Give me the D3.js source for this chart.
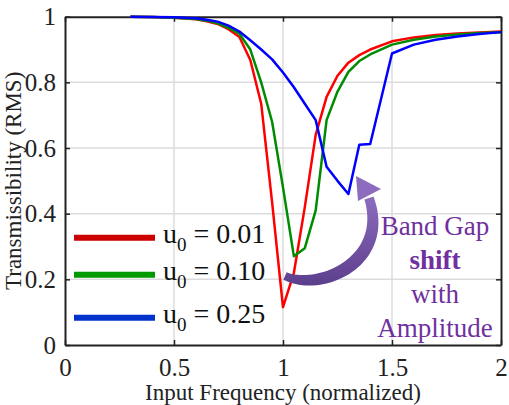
<!DOCTYPE html>
<html><head><meta charset="utf-8">
<script src="https://cdn.jsdelivr.net/npm/d3@7"></script>
<style>body{margin:0;background:#fff}</style></head>
<body><svg id="c" width="509" height="405"></svg>
<script>
const freq  = [0.3,0.4,0.5,0.6,0.65,0.7,0.75,0.8,0.85,0.9,0.95,1.0,1.05,1.1,1.15,1.2,1.25,1.3,1.35,1.4,1.5,1.6,1.7,1.8,1.9,2.0];
const red   = [1.0,0.999,0.997,0.992,0.986,0.978,0.962,0.938,0.868,0.735,0.435,0.115,0.22,0.42,0.64,0.756,0.82,0.86,0.883,0.9,0.925,0.937,0.944,0.949,0.952,0.955];
const green = [1.0,0.999,0.997,0.993,0.988,0.98,0.966,0.948,0.9,0.8,0.68,0.48,0.27,0.295,0.41,0.685,0.772,0.832,0.865,0.885,0.915,0.93,0.94,0.946,0.95,0.953];
const blue  = [1.0,0.999,0.998,0.995,0.991,0.985,0.973,0.955,0.928,0.9,0.87,0.83,0.785,0.735,0.685,0.543,0.5,0.46,0.61,0.612,0.888,0.915,0.93,0.94,0.947,0.953];
const seriesNames = ["u0 = 0.01","u0 = 0.10","u0 = 0.25"];
const xTicks = [0,0.5,1,1.5,2];
const yTicks = [0,0.2,0.4,0.6,0.8,1];
const annot = ["Band Gap","shift","with","Amplitude"];

const svg = d3.select("#c");
const L=65, R=501, T=16.7, B=345;
const x = d3.scaleLinear().domain([0,2]).range([L,R]);
const y = d3.scaleLinear().domain([0,1]).range([B,T]);
const font = "'Liberation Serif','Times New Roman',serif";

// grid
svg.append("g").selectAll("line").data(xTicks.slice(1,-1)).join("line")
  .attr("x1",d=>x(d)).attr("x2",d=>x(d)).attr("y1",T).attr("y2",B)
  .attr("stroke","#dcdcdc").attr("stroke-width",1.5);
svg.append("g").selectAll("line").data(yTicks.slice(1,-1)).join("line")
  .attr("y1",d=>y(d)).attr("y2",d=>y(d)).attr("x1",L).attr("x2",R)
  .attr("stroke","#dcdcdc").attr("stroke-width",1.5);

// axes
const axB = svg.append("g").attr("transform",`translate(0,${B})`)
  .call(d3.axisBottom(x).tickValues(xTicks).tickSizeInner(-5).tickSizeOuter(0).tickPadding(13).tickFormat(d3.format("")));
const axL = svg.append("g").attr("transform",`translate(${L},0)`)
  .call(d3.axisLeft(y).tickValues(yTicks).tickSizeInner(-5).tickSizeOuter(0).tickPadding(9).tickFormat(d3.format("")));
const axT = svg.append("g").attr("transform",`translate(0,${T})`)
  .call(d3.axisTop(x).tickValues(xTicks).tickSizeInner(-5).tickSizeOuter(0).tickFormat(""));
const axR = svg.append("g").attr("transform",`translate(${R},0)`)
  .call(d3.axisRight(y).tickValues(yTicks).tickSizeInner(-5).tickSizeOuter(0).tickFormat(""));
[axB,axL,axT,axR].forEach(a=>{
  a.attr("font-family",font);
  a.selectAll("path").attr("stroke","#222").attr("stroke-width",2);
  a.selectAll("line").attr("stroke","#222").attr("stroke-width",1.5);
  a.selectAll("text").attr("font-family",font).attr("font-size",25).attr("fill","#222");
});
axB.selectAll("text").attr("dy","0.71em");

// axis labels
svg.append("text").attr("x",x(1)).attr("y",400).attr("text-anchor","middle")
  .attr("font-family",font).attr("font-size",23).attr("fill","#222").text("Input Frequency (normalized)");
svg.append("text").attr("transform",`translate(21,${(T+B)/2}) rotate(-90)`).attr("text-anchor","middle")
  .attr("font-family",font).attr("font-size",23).attr("fill","#222").text("Transmissibility (RMS)");

// curves
const line = d3.line().x((d,i)=>x(freq[i])).y(d=>y(d));
const curveColors = ["#ff0000","#008c00","#0000ff"];
[red,green,blue].forEach((s,k)=>{
  svg.append("path").attr("d",line(s)).attr("fill","none")
    .attr("stroke",curveColors[k]).attr("stroke-width",2.5).attr("stroke-linejoin","round");
});

// legend
const legColors = ["#cc0000","#009900","#0033cc"];
const legY = [237.7,274.7,317.7];
seriesNames.forEach((n,i)=>{
  svg.append("line").attr("x1",74).attr("x2",155).attr("y1",legY[i]).attr("y2",legY[i])
    .attr("stroke",legColors[i]).attr("stroke-width",6);
  const t = svg.append("text").attr("x",163).attr("y",legY[i]+5).attr("font-family",font)
    .attr("font-size",28).attr("fill","#111");
  t.append("tspan").text("u");
  t.append("tspan").attr("font-size",19).attr("dy",8).text("0");
  t.append("tspan").attr("dy",-8).text(" = " + n.split("= ")[1]);
});

// arrow
const defs = svg.append("defs");
const g = defs.append("linearGradient").attr("id","ag").attr("x1","0").attr("y1","1").attr("x2","0").attr("y2","0");
g.append("stop").attr("offset","0%").attr("stop-color","#5c3f8c");
g.append("stop").attr("offset","100%").attr("stop-color","#8d6cbf");
const bez = (p0,p1,p2,p3,t)=>{const u=1-t;return [u*u*u*p0[0]+3*u*u*t*p1[0]+3*u*t*t*p2[0]+t*t*t*p3[0],u*u*u*p0[1]+3*u*u*t*p1[1]+3*u*t*t*p2[1]+t*t*t*p3[1]];};
const P0=[285,276],P1=[320,292],P2=[390,262],P3=[369,198];
const N=40, outer=[], inner=[];
for(let i=0;i<=N;i++){
  const t=i/N, p=bez(P0,P1,P2,P3,t), q=bez(P0,P1,P2,P3,Math.min(1,t+0.01)), r=bez(P0,P1,P2,P3,Math.max(0,t-0.01));
  let dx=q[0]-r[0], dy=q[1]-r[1]; const len=Math.hypot(dx,dy); dx/=len; dy/=len;
  const w = 4 + 2.5*Math.sin(Math.PI*t*0.9);
  outer.push([p[0]-dy*w,p[1]+dx*w]); inner.push([p[0]+dy*w,p[1]-dx*w]);
}
svg.append("path").attr("d",d3.line()(outer.concat(inner.reverse()))+"Z").attr("fill","url(#ag)");
svg.append("path").attr("d","M356,176 L381,189 L358,201 Z").attr("fill","#8d6cbf");

// annotation
const aY=[235,269,303,337];
annot.forEach((s,i)=>{
  svg.append("text").attr("x",435).attr("y",aY[i]).attr("text-anchor","middle")
    .attr("font-family",font).attr("font-size",27).attr("fill","#7030a0")
    .attr("font-weight",i===1?"bold":"normal").text(s);
});
</script></body></html>
